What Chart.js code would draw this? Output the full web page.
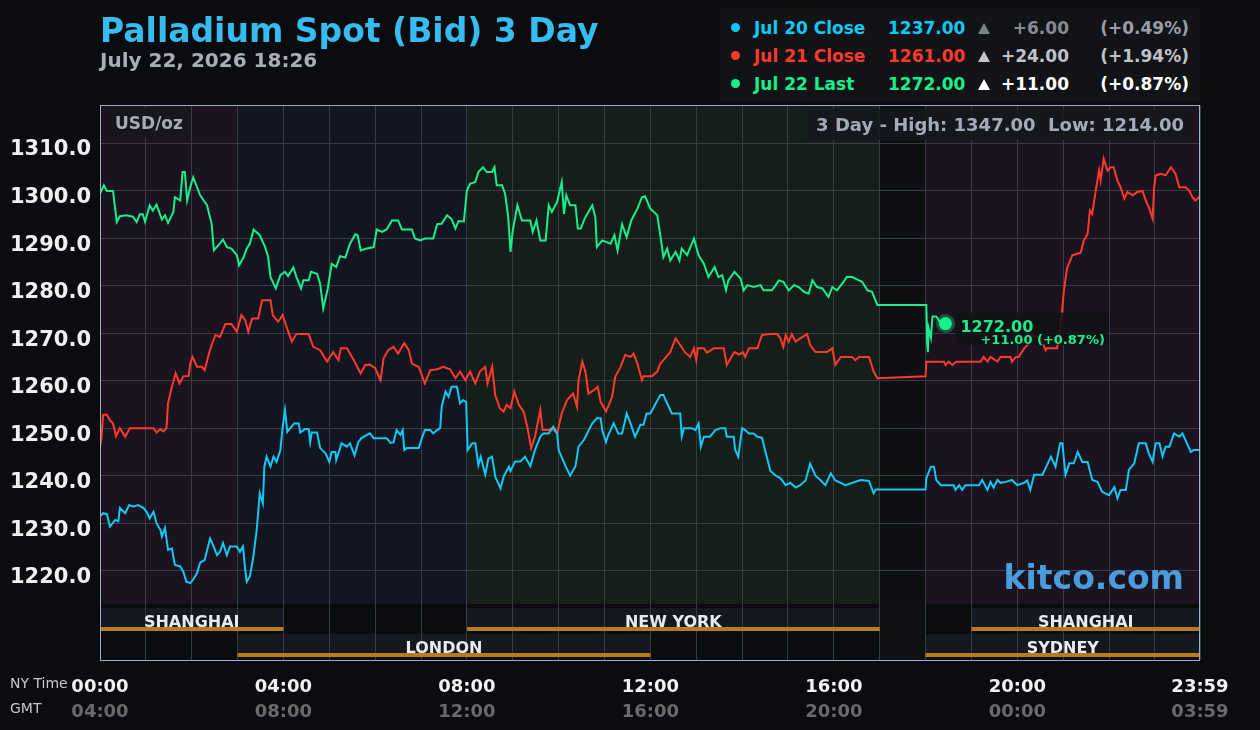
<!DOCTYPE html>
<html>
<head>
<meta charset="utf-8">
<title>Palladium Spot (Bid) 3 Day</title>
<script src="https://cdn.jsdelivr.net/npm/chart.js@4.4.1/dist/chart.umd.min.js"></script>
<style>
  html, body { margin: 0; padding: 0; background: #0b0c10; }
  #wrap { position: relative; width: 1260px; height: 730px; font-family: 'DejaVu Sans', sans-serif; font-weight: bold; }
  canvas { display: block; position: absolute; left: 0; top: 0; }
  #title { position: absolute; left: 100px; top: 14px; font-size: 33px; line-height: 33px; color: #36bcf0; white-space: nowrap; }
  #date { position: absolute; left: 100px; top: 50px; font-size: 20px; line-height: 20px; color: #a9adb5; white-space: nowrap; }
  #legend { position: absolute; left: 720px; top: 8px; width: 480px; height: 94px; background: #111317; }
  .row { position: absolute; left: 0; width: 480px; height: 28px; line-height: 28px; font-size: 17px; white-space: nowrap; }
  .row span { position: absolute; top: 0; }
  .dot { width: 9px; height: 9px; border-radius: 50%; left: 11px; top: 9px !important; }
  .tri { left: 258px; top: 9px !important; width: 0; height: 0; border-left: 6px solid transparent; border-right: 6px solid transparent; border-bottom: 11px solid #fff; }
</style>
</head>
<body>
<div id="wrap">
  <canvas id="chart" width="1260" height="730"></canvas>
  <div id="title">Palladium Spot (Bid) 3 Day</div>
  <div id="date">July 22, 2026 18:26</div>
  <div id="legend">
    <div class="row" style="top:6px">
      <span class="dot" style="background:#12c8f4"></span>
      <span style="left:34px;color:#12c8f4">Jul 20 Close</span>
      <span style="left:168px;color:#12c8f4">1237.00</span>
      <span class="tri" style="border-bottom-color:#7d818a"></span>
      <span style="right:131px;color:#878a92">+6.00</span>
      <span style="right:11px;color:#9a9da5">(+0.49%)</span>
    </div>
    <div class="row" style="top:34px">
      <span class="dot" style="background:#ff3a2c"></span>
      <span style="left:34px;color:#ff3a2c">Jul 21 Close</span>
      <span style="left:168px;color:#ff3a2c">1261.00</span>
      <span class="tri" style="border-bottom-color:#c2c5cc"></span>
      <span style="right:131px;color:#bfc2c9">+24.00</span>
      <span style="right:11px;color:#bfc2c9">(+1.94%)</span>
    </div>
    <div class="row" style="top:62px">
      <span class="dot" style="background:#18ef8c"></span>
      <span style="left:34px;color:#18ef8c">Jul 22 Last</span>
      <span style="left:168px;color:#18ef8c">1272.00</span>
      <span class="tri" style="border-bottom-color:#ffffff"></span>
      <span style="right:131px;color:#ffffff">+11.00</span>
      <span style="right:11px;color:#ffffff">(+0.87%)</span>
    </div>
  </div>
</div>
<script>
// minutes after 00:00 NY time, price in USD/oz
const jul20Times = [
  0,4,9,13,20,24,26,33,38,44, 50,57,61,65,70,74,79,81,85,89,
  94,98,105,109,113,118,122,127,131,137, 144,148,153,157,161,166,170,179,183,187,
  190,192,196,200,205,209,213,215,218,223, 227,231,236,239,242,245,249,254,260,262,
  268,273,275,277,284,288,295,300,303,308, 309,316,323,327,333,338,342,353,358,375,
  380,384,388,393,396,398,401,417,421,425, 432,436,441,445,447,452,456,460,467,471,
  475,479,481,487,491,495,498,504,508,513, 517,524,528,535,537,543,550,556,563,569,
  576,580,587,593,598,600,609,615,622,626, 633,644,650,655,657,662,665,672,678,683,
  689,694,700,707,711,715,720,727,733,737, 744,748,759,761,764,774,779,783,786,790,
  798,805,812,818,820,829,831,835,840,844, 849,855,860,866,870,877,884,890,897,903,
  910,916,923,929,936,943,949,956,962,969, 975,995,1006,1012,1015,1080,1081,1087,1091,1094,
  1100,1117,1119,1124,1128,1132,1150,1154,1161,1165, 1169,1174,1178,1185,1193,1200,1209,1213,1217,1222,
  1233,1237,1244,1250,1256,1259,1263,1268,1274,1279, 1285,1292,1298,1305,1311,1320,1327,1331,1335,1342,
  1346,1353,1359,1368,1372,1377,1381,1386,1390,1394, 1399,1405,1412,1416,1420,1427,1431,1439
];
const jul20Prices = [
  1231.4,1232.1,1231.9,1229.3,1230.7,1230.4,1233.2,1232.1,1233.8,1233.5, 1233.8,1233.2,1232.4,1231,1232.4,1230,1228.6,1227.2,1229,1224.4,
  1224.7,1221.2,1220.9,1219.8,1217.7,1217.4,1218.2,1219.5,1221.7,1222.3, 1226.8,1225.4,1223.3,1224,1225.8,1223.3,1225.1,1225.1,1224,1225.1,
  1220.2,1217.7,1218.8,1222.3,1228.6,1236.3,1234.2,1241.9,1244,1241.9, 1244,1242.9,1245.4,1250.3,1253.8,1249.2,1250,1251,1251,1249.1,
  1249.8,1249.8,1247.1,1249.1,1249.1,1245.8,1244.7,1242.9,1245,1245, 1243.3,1246.8,1246.1,1246.8,1244.3,1247.1,1247.9,1248.9,1247.9,1247.9,
  1246.9,1247,1249.6,1248.6,1249.6,1245.4,1245.8,1245.8,1247.9,1249.6, 1249.6,1248.9,1249.6,1250,1254.5,1257.7,1256.6,1258.7,1258.7,1255.2,
  1255.9,1255.5,1245.4,1246.8,1246.8,1242.2,1244,1240.2,1243.6,1244, 1239.8,1237.3,1239.8,1241.9,1241,1243,1243,1244,1242,1245.4,
  1248.2,1248.9,1248.9,1250.3,1248.9,1245.4,1242,1240,1242,1246.1, 1247.5,1251,1252.1,1252.1,1249.6,1247.1,1248.6,1251,1248.9,1248.9,
  1253.1,1251,1248.2,1250.7,1250.7,1253.1,1253.1,1255.2,1257,1257, 1254.5,1253.1,1253.1,1248.2,1250,1250,1249.6,1251,1246.1,1248.2,
  1248.2,1249.6,1250,1250,1248.2,1248.2,1245.4,1244,1250,1249.6, 1248.9,1248.9,1248.2,1248,1245.4,1241,1240,1239.5,1238,1238.5,
  1237.5,1238,1239,1242.5,1240,1239,1238,1240.5,1239,1238.5, 1238,1239.1,1238.9,1236.3,1237.1,1237.1,1239.5,1241.9,1241.9,1239.1,
  1238,1238,1237,1238,1237,1238,1238,1239.1,1237,1238.7, 1237.5,1239.1,1238.5,1238.7,1239.1,1238,1238.5,1239,1237,1240.2,
  1240.2,1241.6,1244,1241.9,1246.8,1246.8,1240.2,1242.6,1242.6,1245, 1242.9,1242.9,1239.1,1238.7,1236.6,1235.9,1237.6,1235.2,1237,1237,
  1241.2,1242.6,1246.8,1246.8,1244.7,1242.9,1246.8,1246.8,1244.1,1246.1, 1246.1,1248.9,1248.2,1248.9,1247.5,1245,1245.4,1245.4
];

const jul21Times = [
  0,2,4,9,13,17,21,26,33,39, 70,74,79,83,87,89,94,99,104,109,
  116,118,121,127,133,137,142,146,151,157, 164,172,179,185,190,194,199,207,212,223,
  226,233,239,244,251,257,273,279,288,297, 305,312,315,323,332,341,347,353,360,367,
  371,377,384,390,398,404,408,417,425,432, 441,449,458,465,471,478,484,491,497,504,
  507,513,517,523,528,532,537,542,548,554, 559,564,569,576,579,587,591,598,604,611,
  619,624,626,631,635,639,646,651,655,662, 670,674,681,687,694,698,703,709,711,722,
  729,733,739,746,753,759,765,772,777,780, 782,790,794,803,816,820,825,830,836,841,
  844,849,860,866,877,886,890,894,897,901, 905,910,916,925,929,936,951,958,962,969,
  984,988,993,1006,1012,1017,1080,1081,1104,1106, 1110,1115,1120,1152,1156,1161,1165,1174,1178,1191,
  1193,1198,1202,1209,1215,1219,1231,1237,1239,1252, 1257,1261,1265,1272,1283,1287,1292,1295,1298,1303,
  1307,1309,1313,1318,1322,1326,1331,1335,1340,1344, 1351,1357,1364,1368,1372,1377,1379,1381,1388,1394,
  1401,1407,1412,1420,1425,1429,1433,1438,1439
];
const jul21Prices = [
  1246,1248,1252.8,1252.8,1251.7,1251,1248.3,1250,1248.2,1250, 1250,1249.1,1249.8,1249.3,1250,1255.2,1258.7,1261.5,1259.4,1260.9,
  1261,1263.6,1265,1262.9,1262.9,1262.2,1265.4,1267.5,1269.6,1269.2, 1271.9,1271.9,1270.3,1273.8,1272.7,1270.3,1273.1,1273.1,1276.9,1276.9,
  1273.8,1272.4,1273.8,1271.3,1268.2,1269.8,1269.8,1267.1,1266.4,1264, 1266,1264.3,1266.8,1266.8,1264.3,1261.5,1263.3,1263.4,1262.6,1260.1,
  1264.7,1266.4,1267.1,1265.7,1267.9,1266.4,1263.6,1262.9,1259.4,1262.2, 1262.4,1262.9,1262.4,1260.5,1261.9,1260.1,1261.9,1259.4,1261.9,1262.9,
  1259.4,1262.9,1257,1254.2,1253.5,1254.9,1254.2,1257.7,1254.9,1253.5, 1250.3,1245.8,1248.2,1253.8,1249.6,1249.6,1250,1248.9,1253.1,1255.9,
  1257.3,1254.5,1260.1,1264,1261.9,1257.3,1258,1258.7,1255.5,1253.5, 1256.6,1260.8,1262.9,1265.4,1265,1265.7,1263.6,1260.1,1260.9,1260.9,
  1261.9,1263.6,1264.7,1266,1268.9,1267.5,1266,1265,1266.8,1264.3, 1266.8,1266.8,1265.9,1266.8,1266.8,1263.3,1264.7,1266,1265.5,1266,
  1265,1266.8,1266.8,1269.6,1269.8,1269.8,1268.9,1267.1,1269.6,1268.2, 1269.8,1268.2,1268.9,1269.8,1267.5,1266,1266,1266.8,1263.3,1265,
  1265,1264.3,1265,1265,1261.9,1260.5,1260.9,1264,1264,1263.3, 1264,1263.3,1264,1264,1265,1264,1265,1264,1265,1265,
  1264,1265,1265,1266.8,1267.8,1269.6,1268.9,1266.4,1266.8,1266.8, 1272,1279,1283.6,1286.4,1286.9,1289.5,1290.9,1295.8,1295.1,1300.4,
  1304.2,1302.1,1306.7,1304.2,1304.9,1304.9,1302.1,1300.7,1298.3,1299.7, 1299,1299.7,1299.9,1297.9,1296.5,1294.1,1300.7,1303.2,1303.5,1303.2,
  1304.9,1303.5,1300.7,1300.7,1300,1298.6,1297.9,1298.6,1299
];

const jul22Times = [
  0,5,9,17,22,26,34,43,48,52, 56,59,65,69,74,81,85,89,96,98,
  105,108,111,114,118,122,131,140,146,149, 155,161,166,172,179,182,188,192,196,201,
  209,216,220,223,230,236,242,246,253,257, 263,266,273,276,284,288,292,298,303,309,
  314,321,327,334,337,341,349,358,362,369, 375,382,390,395,408,412,419,425,436,441,
  447,454,460,465,469,476,480,484,491,495, 501,506,513,516,519,526,530,534,537,540,
  546,552,563,566,571,576,583,587,591,598, 604,607,610,615,622,625,629,634,639,644,
  648,650,657,668,673,677,683,689,695,703, 709,713,720,729,733,737,742,746,753,758,
  761,768,777,783,790,796,804,809,814,819, 822,830,838,842,847,855,864,868,879,884,
  888,894,901,908,914,921,927,932,938,945, 953,958,964,971,977,984,993,997,1004,1010,
  1017,1081,1082,1083,1084,1087,1089,1094,1100,1106
];
const jul22Prices = [
  1299.3,1301.1,1299.9,1299.9,1293.4,1294.6,1294.8,1294.5,1293.4,1295, 1295,1293.4,1296.9,1295.8,1297,1293.9,1294.8,1293.2,1295.5,1298.6,
  1297.9,1303.9,1303.9,1297.9,1300.7,1302.8,1299,1296.9,1293,1287.4, 1288.5,1289.7,1288.1,1287.8,1286.4,1284.3,1286,1287.8,1288.8,1291.8,
  1290.6,1288.1,1286,1281.8,1279.4,1282.2,1282.9,1282,1283.8,1281.8, 1279.4,1281.1,1281.1,1282.9,1282.5,1280.4,1275.2,1279.4,1284.6,1283.9,
  1286.2,1285.9,1288.8,1290.8,1290.6,1287.4,1287.8,1288.1,1291.8,1291.3, 1291.8,1293.7,1293.7,1291.8,1291.8,1289.9,1289.5,1289.9,1289.9,1292.9,
  1293,1294.8,1294,1292,1293.6,1293.5,1300,1301.4,1301.8,1303.9, 1304.9,1303.9,1303.9,1304.9,1301.1,1301.1,1299.3,1294.4,1287.1,1291.6,
  1296.9,1293.7,1293.7,1291.3,1293.7,1289.5,1289.5,1296.9,1295.5,1297.6, 1301.8,1295.1,1299,1296.9,1296.9,1292,1292,1294.1,1295.5,1296.9,
  1294.4,1288.1,1289.5,1288.8,1290.6,1287.4,1292.9,1290.2,1293.7,1296.2, 1298.6,1298.8,1296.2,1294.8,1290.6,1286,1287.8,1285.3,1287.1,1285.3,
  1287.8,1286.4,1289.9,1286.4,1284.6,1281.8,1283.9,1281.8,1282.2,1279, 1281.1,1282.9,1281.5,1279,1280.1,1279.7,1280.1,1279,1279,1280.1,
  1281.1,1280.8,1279,1280.1,1279.7,1278.7,1278.3,1281.1,1279.7,1279.4, 1277.6,1279.7,1279,1280.4,1281.8,1281.8,1281.1,1280.8,1279,1278.7,
  1275.9,1275.9,1268,1266,1271,1269,1273.5,1273.5,1272,1272
];

const yTicks = [1220, 1230, 1240, 1250, 1260, 1270, 1280, 1290, 1300, 1310];
const labelTicks = [0, 240, 480, 720, 960, 1200, 1439];
const nyLabels = ['00:00', '04:00', '08:00', '12:00', '16:00', '20:00', '23:59'];
const gmtLabels = ['04:00', '08:00', '12:00', '16:00', '20:00', '00:00', '03:59'];
const hourTicks = [...Array(24).keys()].map(h => h * 60).concat([1439]);

// background zones of the price area and market sessions (minutes)
const zones = [
  { from: 0, to: 180, color: '#1b1320' },
  { from: 180, to: 480, color: '#121621' },
  { from: 480, to: 1020, color: '#161e19' },
  { from: 1020, to: 1080, color: '#0e0f12' },
  { from: 1080, to: 1440, color: '#1b1320' }
];
const sessions = [
  { name: 'SHANGHAI', from: 0, to: 240, row: 0 },
  { name: 'NEW YORK', from: 480, to: 1020, row: 0 },
  { name: 'SHANGHAI', from: 1140, to: 1440, row: 0 },
  { name: 'LONDON', from: 180, to: 720, row: 1 },
  { name: 'SYDNEY', from: 1080, to: 1440, row: 1 }
];

const FONT = "'DejaVu Sans', sans-serif";
const GRID = '#393b45';
const CYAN = '#12c8f4', RED = '#ff3a2c', GREEN = '#18ef8c';

const toPoints = (t, p) => t.map((m, i) => ({ x: m, y: p[i] }));

const frame = {
  id: 'frame',
  beforeDraw(chart) {
    const { ctx, chartArea: a, scales: { x } } = chart;
    const px = m => Math.min(x.getPixelForValue(m), a.right);
    ctx.save();
    zones.forEach(z => {
      ctx.fillStyle = z.color;
      ctx.fillRect(px(z.from), a.top, px(z.to) - px(z.from), a.bottom - a.top);
    });
    ctx.fillStyle = '#0b0c0f';
    ctx.fillRect(a.left, a.bottom, a.right - a.left, 56);
    ctx.fillStyle = '#0f1013';
    ctx.fillRect(px(1020), a.bottom, px(1080) - px(1020), 56);
    sessions.forEach(s => {
      ctx.fillStyle = '#141821';
      ctx.fillRect(px(s.from), a.bottom + (s.row ? 30 : 4), px(s.to) - px(s.from), 23);
    });
    ctx.restore();
  },
  afterDraw(chart) {
    const { ctx, chartArea: a, scales: { x } } = chart;
    const px = m => Math.min(x.getPixelForValue(m), a.right);
    ctx.save();

    // session bars
    ctx.textAlign = 'center';
    ctx.textBaseline = 'alphabetic';
    ctx.font = 'bold 16px ' + FONT;
    sessions.forEach(s => {
      const y = a.bottom + (s.row ? 30 : 4);
      ctx.fillStyle = '#b97d17';
      ctx.fillRect(px(s.from), y + 19, px(s.to) - px(s.from), 4);
      ctx.fillStyle = '#e6eaf2';
      ctx.fillText(s.name, (px(s.from) + px(s.to)) / 2, y + 19);
    });

    // frame border
    ctx.strokeStyle = '#a1abc2';
    ctx.lineWidth = 1;
    ctx.strokeRect(a.left + 0.5, a.top + 0.5, a.right - a.left - 1, a.bottom + 56 - a.top);

    // unit label
    ctx.fillStyle = 'rgba(22,23,28,0.9)';
    ctx.fillRect(108, 108, 82, 30);
    ctx.fillStyle = '#a4acb8';
    ctx.font = 'bold 17px ' + FONT;
    ctx.textAlign = 'left';
    ctx.textBaseline = 'middle';
    ctx.fillText('USD/oz', 115, 125);

    // high / low
    ctx.fillStyle = 'rgba(22,24,28,0.88)';
    ctx.fillRect(807, 109, 385, 31);
    ctx.fillStyle = '#a3aab8';
    ctx.font = 'bold 18px ' + FONT;
    ctx.textAlign = 'right';
    ctx.fillText('3 Day - High: 1347.00  Low: 1214.00', 1184, 126);

    // watermark
    ctx.fillStyle = '#4b9cdc';
    ctx.font = 'bold 33px ' + FONT;
    ctx.textBaseline = 'alphabetic';
    ctx.fillText('kitco.com', 1184, 589);

    // last price marker
    const meta = chart.getDatasetMeta(2);
    const pt = meta.data[meta.data.length - 1];
    ctx.fillStyle = 'rgba(17,19,21,0.85)';
    ctx.fillRect(pt.x + 10, pt.y - 11, 153, 32);
    ctx.beginPath();
    ctx.arc(pt.x, pt.y, 9.5, 0, Math.PI * 2);
    ctx.fillStyle = 'rgba(24,239,140,0.3)';
    ctx.fill();
    ctx.beginPath();
    ctx.arc(pt.x, pt.y, 6.5, 0, Math.PI * 2);
    ctx.fillStyle = GREEN;
    ctx.fill();
    ctx.textAlign = 'left';
    ctx.font = 'bold 16px ' + FONT;
    ctx.fillText('1272.00', pt.x + 15, pt.y + 8);
    ctx.font = 'bold 13px ' + FONT;
    ctx.fillText('+11.00 (+0.87%)', pt.x + 35, pt.y + 20.5);

    // time axis captions
    ctx.fillStyle = '#c8c8c8';
    ctx.font = '14px ' + FONT;
    ctx.textBaseline = 'middle';
    ctx.fillText('NY Time', 10, 684);
    ctx.fillText('GMT', 10, 709);
    ctx.restore();
  }
};

const line = (label, t, p, color) => ({
  label, data: toPoints(t, p), borderColor: color, backgroundColor: color,
  borderWidth: 2, pointRadius: 0, tension: 0, fill: false, xAxisID: 'x', yAxisID: 'y'
});

new Chart(document.getElementById('chart'), {
  type: 'line',
  data: {
    datasets: [
      line('Jul 20 Close', jul20Times, jul20Prices, CYAN),
      line('Jul 21 Close', jul21Times, jul21Prices, RED),
      line('Jul 22 Last', jul22Times, jul22Prices, GREEN)
    ]
  },
  options: {
    responsive: false,
    animation: false,
    events: [],
    layout: { padding: { left: 10, right: 60, top: 105, bottom: 0 } },
    plugins: { legend: { display: false }, tooltip: { enabled: false } },
    scales: {
      x: {
        type: 'linear', min: 0, max: 1439, position: 'bottom', weight: 0,
        afterBuildTicks: ax => { ax.ticks = hourTicks.map(v => ({ value: v })); },
        afterFit: ax => { ax.height = 95; },
        grid: { color: GRID, tickColor: GRID, drawTicks: true, tickLength: 56 },
        border: { display: false },
        ticks: {
          autoSkip: false, minRotation: 0, maxRotation: 0, padding: 17,
          color: '#f2f2f2', font: { family: FONT, size: 18, weight: 'bold' },
          callback: v => { const i = labelTicks.indexOf(v); return i < 0 ? '' : nyLabels[i]; }
        }
      },
      xg: {
        type: 'linear', min: 0, max: 1439, position: 'bottom', weight: 1,
        afterBuildTicks: ax => { ax.ticks = labelTicks.map(v => ({ value: v })); },
        afterFit: ax => { ax.height = 31; },
        grid: { display: false, drawTicks: false },
        border: { display: false },
        ticks: {
          autoSkip: false, minRotation: 0, maxRotation: 0, padding: 3,
          color: '#6a6a6a', font: { family: FONT, size: 18, weight: 'bold' },
          callback: v => gmtLabels[labelTicks.indexOf(v)]
        }
      },
      y: {
        type: 'linear', min: 1213, max: 1318, position: 'left',
        afterBuildTicks: ax => { ax.ticks = yTicks.map(v => ({ value: v })); },
        afterFit: ax => { ax.width = 90; },
        grid: { color: GRID, drawTicks: false },
        border: { display: false },
        ticks: {
          padding: 9, labelOffset: 7, color: '#efefef', font: { family: FONT, size: 21, weight: 'bold' },
          callback: v => v.toFixed(1)
        }
      }
    }
  },
  plugins: [frame]
});
</script>
</body>
</html>
